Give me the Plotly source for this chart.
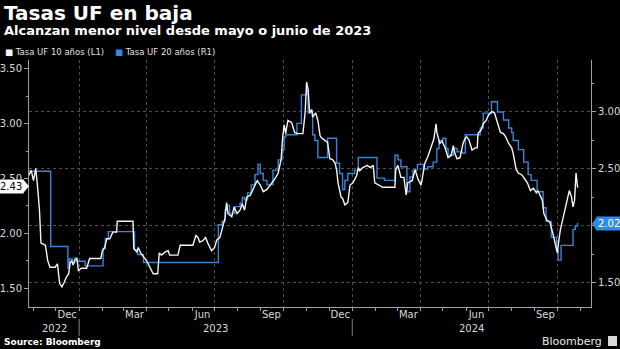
import plotly.graph_objects as go

# ---------------- data ----------------
dates_10 = [
    "2022-10-26", "2022-10-29", "2022-11-01", "2022-11-04", "2022-11-06", "2022-11-09", "2022-11-11",
    "2022-11-17", "2022-11-20", "2022-11-23", "2022-11-30", "2022-12-03", "2022-12-06", "2022-12-09",
    "2022-12-12", "2022-12-15", "2022-12-18", "2022-12-20", "2022-12-22", "2022-12-24", "2022-12-26",
    "2022-12-29", "2022-12-31", "2023-01-04", "2023-01-11", "2023-01-13", "2023-01-15", "2023-01-30",
    "2023-02-01", "2023-02-04", "2023-02-07", "2023-02-11", "2023-02-15", "2023-02-20", "2023-02-21",
    "2023-03-14", "2023-03-15", "2023-03-19", "2023-03-21", "2023-03-24", "2023-04-01", "2023-04-04",
    "2023-04-10", "2023-04-16", "2023-04-18", "2023-04-21", "2023-04-26", "2023-04-30", "2023-05-02",
    "2023-05-13", "2023-05-16", "2023-06-02", "2023-06-06", "2023-06-09", "2023-06-11", "2023-06-15",
    "2023-06-19", "2023-06-22", "2023-06-27", "2023-07-01", "2023-07-04", "2023-07-08", "2023-07-12",
    "2023-07-15", "2023-07-17", "2023-07-19", "2023-07-24", "2023-07-27", "2023-07-31", "2023-08-04",
    "2023-08-07", "2023-08-10", "2023-08-13", "2023-08-18", "2023-08-24", "2023-08-27", "2023-08-31",
    "2023-09-04", "2023-09-09", "2023-09-16", "2023-09-20", "2023-09-24", "2023-09-28", "2023-09-30",
    "2023-10-02", "2023-10-04", "2023-10-07", "2023-10-12", "2023-10-16", "2023-10-20", "2023-10-27",
    "2023-10-30", "2023-11-01", "2023-11-03", "2023-11-05", "2023-11-08", "2023-11-09", "2023-11-13",
    "2023-11-16", "2023-11-19", "2023-11-21", "2023-11-25", "2023-11-29", "2023-12-02", "2023-12-06",
    "2023-12-09", "2023-12-11", "2023-12-13", "2023-12-17", "2023-12-19", "2023-12-22", "2023-12-26",
    "2023-12-29", "2024-01-02", "2024-01-07", "2024-01-09", "2024-01-11", "2024-01-15", "2024-01-21",
    "2024-01-25", "2024-01-29", "2024-01-31", "2024-02-11", "2024-02-27", "2024-02-28", "2024-03-02",
    "2024-03-06", "2024-03-10", "2024-03-13", "2024-03-15", "2024-03-21", "2024-03-25", "2024-03-29",
    "2024-04-02", "2024-04-07", "2024-04-11", "2024-04-16", "2024-04-19", "2024-04-22", "2024-04-23",
    "2024-04-27", "2024-04-30", "2024-05-04", "2024-05-08", "2024-05-12", "2024-05-15", "2024-05-17",
    "2024-05-20", "2024-05-24", "2024-05-28", "2024-05-31", "2024-06-02", "2024-06-05", "2024-06-09",
    "2024-06-13", "2024-06-16", "2024-06-17", "2024-06-21", "2024-06-24", "2024-06-28", "2024-07-01",
    "2024-07-06", "2024-07-09", "2024-07-13", "2024-07-17", "2024-07-21", "2024-07-24", "2024-07-28",
    "2024-08-01", "2024-08-03", "2024-08-07", "2024-08-10", "2024-08-15", "2024-08-18", "2024-08-22",
    "2024-08-26", "2024-08-30", "2024-09-03", "2024-09-05", "2024-09-11", "2024-09-13", "2024-09-17",
    "2024-09-21", "2024-09-25", "2024-09-28", "2024-10-01", "2024-10-02", "2024-10-05", "2024-10-09",
    "2024-10-14", "2024-10-17", "2024-10-20", "2024-10-22", "2024-10-24", "2024-10-26", "2024-10-28",
    "2024-10-29",
]
tasa_10 = [
    2.53, 2.575, 2.48, 2.59, 2.46, 2.21, 1.91,
    1.89, 1.75, 1.69, 1.69, 1.72, 1.54, 1.51,
    1.55, 1.60, 1.63, 1.73, 1.75, 1.71, 1.75,
    1.77, 1.66, 1.68, 1.68, 1.72, 1.77, 1.77,
    1.84, 1.87, 1.95, 1.95, 2.01, 2.01, 2.11,
    2.11, 1.86, 1.83, 1.87, 1.82, 1.75, 1.71,
    1.63, 1.63, 1.82, 1.80, 1.83, 1.84, 1.80,
    1.80, 1.89, 1.89, 1.98, 1.96, 1.92, 1.93,
    1.96, 1.91, 1.84, 1.87, 1.94, 1.96, 2.05,
    2.14, 2.28, 2.18, 2.15, 2.24, 2.18, 2.21,
    2.27, 2.21, 2.33, 2.35, 2.44, 2.48, 2.44,
    2.38, 2.40, 2.46, 2.50, 2.55, 2.68, 2.88,
    2.99, 2.91, 3.03, 3.01, 2.92, 2.91, 2.91,
    3.10, 3.38, 3.31, 3.10, 3.13, 3.06, 3.10,
    3.03, 2.89, 2.87, 2.85, 2.83, 2.68, 2.67,
    2.64, 2.58, 2.46, 2.33, 2.32, 2.26, 2.28,
    2.44, 2.46, 2.53, 2.60, 2.57, 2.60, 2.62,
    2.60, 2.62, 2.46, 2.42, 2.42, 2.58, 2.62,
    2.51, 2.51, 2.35, 2.46, 2.48, 2.58, 2.49,
    2.44, 2.64, 2.70, 2.80, 2.86, 3.00, 2.92,
    2.82, 2.84, 2.78, 2.69, 2.71, 2.80, 2.73,
    2.68, 2.69, 2.82, 2.87, 2.88, 2.85, 2.76,
    2.78, 2.78, 2.91, 2.94, 3.00, 3.03, 3.08,
    3.11, 3.10, 3.01, 2.92, 2.91, 2.88, 2.82,
    2.78, 2.73, 2.58, 2.55, 2.53, 2.50, 2.46,
    2.39, 2.41, 2.37, 2.39, 2.30, 2.18, 2.12,
    2.10, 2.00, 1.91, 1.82, 1.88, 2.03, 2.15,
    2.30, 2.39, 2.33, 2.24, 2.30, 2.55, 2.42,
    2.43,
]

dates_20 = [
    "2022-10-25", "2022-11-24", "2022-12-17", "2022-12-19", "2022-12-23", "2022-12-26", "2022-12-29",
    "2023-01-09", "2023-02-02", "2023-02-05", "2023-02-09", "2023-03-16", "2023-03-20", "2023-03-28",
    "2023-07-06", "2023-07-11", "2023-07-15", "2023-07-17", "2023-07-21", "2023-07-28", "2023-08-04",
    "2023-08-07", "2023-08-10", "2023-08-14", "2023-08-19", "2023-08-24", "2023-08-28", "2023-08-31",
    "2023-09-04", "2023-09-09", "2023-09-17", "2023-09-24", "2023-09-29", "2023-10-02", "2023-10-04",
    "2023-10-19", "2023-10-25", "2023-11-01", "2023-11-03", "2023-11-09", "2023-11-12", "2023-11-16",
    "2023-11-29", "2023-12-11", "2023-12-15", "2023-12-19", "2023-12-22", "2023-12-26", "2024-01-04",
    "2024-01-09", "2024-02-03", "2024-02-13", "2024-02-27", "2024-03-02", "2024-03-06", "2024-03-14",
    "2024-03-18", "2024-03-22", "2024-03-28", "2024-04-05", "2024-04-11", "2024-04-18", "2024-04-23",
    "2024-04-26", "2024-05-01", "2024-05-05", "2024-05-08", "2024-05-15", "2024-05-20", "2024-05-27",
    "2024-05-31", "2024-06-20", "2024-06-24", "2024-07-05", "2024-07-13", "2024-07-21", "2024-07-28",
    "2024-08-01", "2024-08-03", "2024-08-10", "2024-08-17", "2024-08-23", "2024-08-27", "2024-09-04",
    "2024-09-12", "2024-09-16", "2024-09-23", "2024-09-30", "2024-10-02", "2024-10-06", "2024-10-22",
    "2024-10-25", "2024-10-28", "2024-10-29",
]
tasa_20 = [
    2.48, 1.82, 1.63, 1.71, 1.68, 1.72, 1.69,
    1.65, 1.80, 1.89, 1.95, 1.79, 1.75, 1.68,
    2.01, 2.04, 2.14, 2.18, 2.11, 2.17, 2.20,
    2.25, 2.23, 2.29, 2.36, 2.45, 2.54, 2.46,
    2.40, 2.36, 2.49, 2.58, 2.67, 2.78, 2.80,
    2.90, 3.15, 3.19, 2.99, 2.80, 2.75, 2.60,
    2.77, 2.55, 2.46, 2.32, 2.40, 2.46, 2.49,
    2.60, 2.42, 2.40, 2.62, 2.58, 2.52, 2.30,
    2.43, 2.49, 2.54, 2.50, 2.52, 2.56, 2.68,
    2.75, 2.77, 2.68, 2.62, 2.68, 2.65, 2.64,
    2.80, 2.86, 2.99, 3.09, 3.00, 2.93, 2.86,
    2.82, 2.75, 2.67, 2.56, 2.45, 2.40, 2.30,
    2.16, 2.04, 1.90, 1.79, 1.70, 1.83, 1.97,
    2.00, 2.02, 2.02,
]

quarter_ticks = ["2023-01-01", "2023-04-01", "2023-07-01", "2023-10-01",
                 "2024-01-01", "2024-04-01", "2024-07-01", "2024-10-01"]
month_labels = ["Dec", "Mar", "Jun", "Sep", "Dec", "Mar", "Jun", "Sep"]
year_labels = ["2022", "2023", "2024"]
year_centers = ["2022-11-29", "2023-07-02", "2024-06-08"]
year_breaks = ["2023-01-01", "2024-01-01"]
left_ticks = [1.5, 2.0, 2.5, 3.0, 3.5]
right_ticks = [1.5, 2.0, 2.5, 3.0]

name_10 = "Tasa UF 10 años (L1)"
name_20 = "Tasa UF 20 años (R1)"
title = "Tasas UF en baja"
subtitle = "Alcanzan menor nivel desde mayo o junio de 2023"
source = "Source: Bloomberg"

# ---------------- style ----------------
W, H = 620, 349
ML, MR, MT, MB = 29, 29, 60, 42
PW, PH = W - ML - MR, H - MT - MB
WHITE = "#f4f4f4"
BLUE = "#3a84d6"
BADGE_BLUE = "#2f8be6"
AXIS = "#a0a0a0"
GRID = "#505050"
TICKTXT = "#d8d8d8"
FONT = "DejaVu Sans"


def px(xp):
    return (xp - ML) / PW


def py(yp):
    return (H - MB - yp) / PH


# right-axis labels hidden under the last-value badge (as in the original)
right_text = ["" if abs(t - tasa_20[-1]) < 0.1 else f"{t:.2f}" for t in right_ticks]

fig = go.Figure()
fig.add_trace(go.Scatter(x=dates_20, y=tasa_20, mode="lines", name=name_20,
                         line=dict(color=BLUE, width=1.4, shape="hv"), yaxis="y"))
fig.add_trace(go.Scatter(x=dates_10, y=tasa_10, mode="lines", name=name_10,
                         line=dict(color=WHITE, width=1.4), yaxis="y2"))

fig.update_layout(
    width=W, height=H,
    margin=dict(l=ML, r=MR, t=MT, b=MB, pad=0),
    paper_bgcolor="black", plot_bgcolor="black",
    showlegend=False, hovermode=False,
    font=dict(family=FONT, color=TICKTXT, size=10),
    xaxis=dict(
        type="date", range=["2022-10-26", "2024-11-15"],
        tickmode="array", tickvals=quarter_ticks, ticktext=month_labels,
        ticklabelshift=-12, ticklabelstandoff=-5,
        ticks="outside", ticklen=3, tickcolor=AXIS,
        showgrid=True, gridcolor=GRID, griddash="dot", gridwidth=1,
        showline=True, linecolor=AXIS, linewidth=1, zeroline=False,
        tickfont=dict(family=FONT, size=10, color=TICKTXT),
        minor=dict(tickmode="linear", tick0="2022-11-01", dtick="M1",
                   ticks="outside", ticklen=3, tickcolor=AXIS, showgrid=False),
        automargin=False, fixedrange=True,
    ),
    yaxis=dict(
        side="right", range=[1.289, 3.456],
        tickmode="array", tickvals=right_ticks, ticktext=right_text,
        ticks="outside", ticklen=4, tickcolor=AXIS,
        showgrid=True, gridcolor=GRID, griddash="dot", gridwidth=1,
        showline=True, linecolor=AXIS, linewidth=1, zeroline=False,
        tickfont=dict(family=FONT, size=10, color=TICKTXT),
        minor=dict(tickmode="linear", tick0=1.25, dtick=0.5, ticks="outside",
                   ticklen=2, tickcolor=AXIS, showgrid=False),
        automargin=False, fixedrange=True,
    ),
    yaxis2=dict(
        side="left", overlaying="y", range=[1.3265, 3.582],
        tickmode="array", tickvals=left_ticks, tickformat=".2f",
        ticks="outside", ticklen=4, tickcolor=AXIS,
        showgrid=False, showline=True, linecolor=AXIS, linewidth=1, zeroline=False,
        tickfont=dict(family=FONT, size=10, color=TICKTXT),
        minor=dict(tickmode="linear", tick0=1.25, dtick=0.5, ticks="outside",
                   ticklen=2, tickcolor=AXIS, showgrid=False),
        automargin=False, fixedrange=True,
    ),
)

ann = []
ann.append(dict(text=f"<b>{title}</b>", xref="paper", yref="paper", x=px(2), y=py(13),
                xanchor="left", yanchor="middle", showarrow=False,
                font=dict(family=FONT, size=20, color="white")))
ann.append(dict(text=f"<b>{subtitle}</b>", xref="paper", yref="paper", x=px(2), y=py(31),
                xanchor="left", yanchor="middle", showarrow=False,
                font=dict(family=FONT, size=13, color="white")))
ann.append(dict(text=f'<span style="color:{WHITE}">■</span> {name_10}', xref="paper", yref="paper",
                x=px(3), y=py(52), xanchor="left", yanchor="middle", showarrow=False,
                font=dict(family=FONT, size=8.5, color="#e0e0e0")))
ann.append(dict(text=f'<span style="color:{BADGE_BLUE}">■</span> {name_20}', xref="paper", yref="paper",
                x=px(113), y=py(52), xanchor="left", yanchor="middle", showarrow=False,
                font=dict(family=FONT, size=8.5, color="#e0e0e0")))
for lab, xc in zip(year_labels, year_centers):
    ann.append(dict(text=lab, xref="x", yref="paper", x=xc, y=py(328), xanchor="center",
                    yanchor="middle", showarrow=False,
                    font=dict(family=FONT, size=10, color=TICKTXT)))
ann.append(dict(text=f"<b>{source}</b>", xref="paper", yref="paper", x=px(2), y=py(342),
                xanchor="left", yanchor="middle", showarrow=False,
                font=dict(family=FONT, size=9, color="white")))
ann.append(dict(text="Bloomberg", xref="paper", yref="paper", x=px(604), y=py(341),
                xanchor="right", yanchor="middle", showarrow=False,
                font=dict(family=FONT, size=11, color="#e8e8e8")))
# last-value badges
ann.append(dict(text=f"{tasa_10[-1]:.2f}", xref="paper", yref="y2", x=0, y=tasa_10[-1],
                xanchor="right", yanchor="middle", xshift=-5, showarrow=False,
                bgcolor="white", borderpad=1, font=dict(family=FONT, size=10, color="black")))
ann.append(dict(text=f"{tasa_20[-1]:.2f}", xref="paper", yref="y", x=1, y=tasa_20[-1],
                xanchor="left", yanchor="middle", xshift=5, showarrow=False,
                bgcolor=BADGE_BLUE, borderpad=1, font=dict(family=FONT, size=10, color="white")))
fig.update_layout(annotations=ann)

shapes = []
for yb in year_breaks:
    shapes.append(dict(type="line", xref="x", yref="paper", x0=yb, x1=yb,
                       y0=py(319), y1=py(336), line=dict(color="#808080", width=1)))
shapes.append(dict(type="path", xref="paper", yref="y2", xsizemode="pixel", ysizemode="pixel",
                   xanchor=0, yanchor=tasa_10[-1], path="M -6,-7 L 0,0 L -6,7 Z",
                   fillcolor="white", line=dict(width=0)))
shapes.append(dict(type="path", xref="paper", yref="y", xsizemode="pixel", ysizemode="pixel",
                   xanchor=1, yanchor=tasa_20[-1], path="M 6,-7 L 1,0 L 6,7 Z",
                   fillcolor=BADGE_BLUE, line=dict(width=0)))
shapes.append(dict(type="rect", xref="paper", yref="paper", x0=px(608), x1=px(617),
                   y0=py(346), y1=py(336), fillcolor="#d8d8d8", line=dict(width=0)))
fig.update_layout(shapes=shapes)

fig.write_html("out.html", config={"displayModeBar": False})
